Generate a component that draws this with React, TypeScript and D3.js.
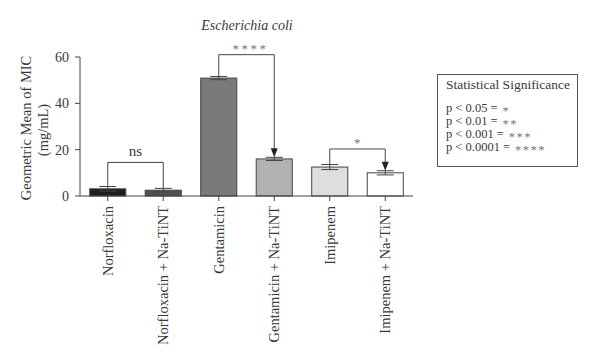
import React from "react";
import * as d3 from "d3";

// values (geometric mean MIC, mg/mL)
const groups = [
  "Norfloxacin",
  "Norfloxacin + Na-TiNT",
  "Gentamicin",
  "Gentamicin + Na-TiNT",
  "Imipenem",
  "Imipenem + Na-TiNT",
];
const means = [3.1, 2.5, 50.9, 16.0, 12.5, 10.0];
const errors = [1.0, 0.8, 0.7, 0.7, 1.1, 0.9];
const fills = ["#1e1e1e", "#505050", "#7a7a7a", "#b2b2b2", "#dedede", "#ffffff"];
const yTicks = [0, 20, 40, 60];

// significance brackets: [from, to, label, arrow]
const comparisons: [number, number, string, boolean][] = [
  [0, 1, "ns", false],
  [2, 3, "****", true],
  [4, 5, "*", true],
];
const bracketLevels = [14.5, 61, 20.3];

const legendTitle = "Statistical Significance";
const legendPs = ["p < 0.05 = ", "p < 0.01 = ", "p < 0.001 = ", "p < 0.0001 = "];
const legendStars = ["*", "**", "***", "****"];

const font = "'Liberation Serif', 'Times New Roman', serif";
const ink = "#3a3a3a";

export default function App() {
  const x = d3
    .scaleBand<string>()
    .domain(groups)
    .range([80, 413])
    .paddingInner(0.35)
    .paddingOuter(0.175);
  const y = d3.scaleLinear().domain([0, 60]).range([196, 57]);
  const cx = (i: number) => (x(groups[i]) as number) + x.bandwidth() / 2;
  const capW = 17;

  return (
    <svg width={600} height={362} style={{ position: "absolute", left: 0, top: 0 }} fontFamily={font}>
      <rect width={600} height={362} fill="#fff" />
      <text x={247} y={30} textAnchor="middle" fontStyle="italic" fontSize={14} fill={ink}>
        Escherichia coli
      </text>

      {/* bars + error bars */}
      {groups.map((g, i) => {
        const top = y(means[i] + errors[i]);
        const bot = y(means[i] - errors[i]);
        return (
          <g key={g}>
            <rect
              x={x(g)}
              y={y(means[i])}
              width={x.bandwidth()}
              height={y(0) - y(means[i])}
              fill={fills[i]}
              stroke="#444"
              strokeWidth={1}
            />
            <line x1={cx(i)} x2={cx(i)} y1={top} y2={bot} stroke="#444" />
            <line x1={cx(i) - capW / 2} x2={cx(i) + capW / 2} y1={top} y2={top} stroke="#444" />
            <line x1={cx(i) - capW / 2} x2={cx(i) + capW / 2} y1={bot} y2={bot} stroke="#444" />
          </g>
        );
      })}

      {/* y axis */}
      <line x1={80} x2={80} y1={y(60)} y2={y(0)} stroke="#444" />
      {yTicks.map((t) => (
        <g key={t}>
          <line x1={75} x2={80} y1={y(t)} y2={y(t)} stroke="#444" />
          <text x={69} y={y(t)} dy="0.35em" textAnchor="end" fontSize={14} fill={ink}>
            {t}
          </text>
        </g>
      ))}
      <text transform="translate(31,128) rotate(-90)" textAnchor="middle" fontSize={14.5} fill={ink}>
        Geometric Mean of MIC
      </text>
      <text transform="translate(48,130) rotate(-90)" textAnchor="middle" fontSize={14.5} fill={ink}>
        (mg/mL)
      </text>

      {/* x axis */}
      <line x1={80} x2={413} y1={y(0)} y2={y(0)} stroke="#444" />
      {groups.map((g, i) => (
        <g key={g}>
          <line x1={cx(i)} x2={cx(i)} y1={y(0)} y2={y(0) + 5} stroke="#444" />
          <text
            transform={`translate(${cx(i) + 5},206) rotate(-90)`}
            textAnchor="end"
            fontSize={14.5}
            fill={ink}
          >
            {g}
          </text>
        </g>
      ))}

      {/* brackets */}
      {comparisons.map(([a, b, label, arrow], k) => {
        const yl = y(bracketLevels[k]);
        const ya = y(means[a] + errors[a]);
        const yb = y(means[b] + errors[b]);
        const stars = label !== "ns";
        return (
          <g key={k}>
            <path
              d={`M${cx(a)},${ya} V${yl} H${cx(b)} V${arrow ? yb - 8 : yb}`}
              fill="none"
              stroke="#444"
            />
            {arrow && (
              <path d={`M${cx(b) - 3.5},${yb - 9} L${cx(b) + 3.5},${yb - 9} L${cx(b)},${yb} Z`} fill="#222" />
            )}
            <text
              x={(cx(a) + cx(b)) / 2 + (stars ? label.length : 0)}
              y={stars ? yl - 2 : yl - 6}
              textAnchor="middle"
              fontSize={stars ? 13 : 15}
              letterSpacing={stars ? 2.5 : 0}
              fill={stars ? "#777" : ink}
            >
              {label}
            </text>
          </g>
        );
      })}

      {/* legend */}
      <rect x={437.5} y={74.5} width={140} height={92} fill="#fff" stroke="#555" />
      <text x={446} y={89} fontSize={13.5} fill={ink}>
        {legendTitle}
      </text>
      {legendPs.map((p, i) => (
        <g key={p}>
          <text x={446} y={112 + i * 13} fontSize={12.5} fill={ink}>
            {p}
          </text>
          <text
            x={446 + 56.5 + (p.length - 11) * 6.25}
            y={115 + i * 13}
            fontSize={12.5}
            fill="#777"
            letterSpacing={1.5}
          >
            {legendStars[i]}
          </text>
        </g>
      ))}
    </svg>
  );
}
